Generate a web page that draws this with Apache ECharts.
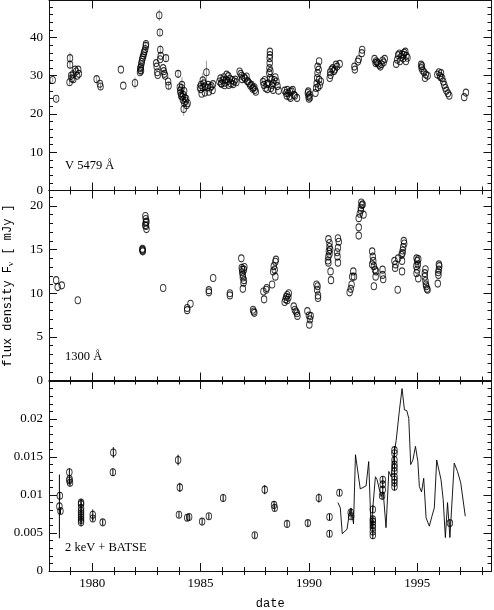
<!DOCTYPE html>
<html>
<head>
<meta charset="utf-8">
<script src="https://cdn.jsdelivr.net/npm/echarts@6/dist/echarts.min.js"></script>
<style>html,body{margin:0;padding:0;background:#fff}#c{width:494px;height:610px}</style>
</head>
<body>
<div id="c"></div>
<script>
// ---- data: [year, flux, error] ----
const opticalV = [
[1978.17,28.9,0.6],[1978.33,24.0,0.5],[1978.95,28.3,0.8],[1978.97,34.6,1.5],[1978.97,32.9,1.0],[1979.02,30.0,0.8],[1979.05,29.3,0],[1979.12,29.1,0],[1979.1,30.4,0],[1979.2,31.6,0],[1979.25,31.1,0],[1979.35,31.6,0],[1979.38,30.5,0],[1979.3,30.0,0],
[1980.2,29.1,0.8],[1980.35,27.9,0],[1980.38,27.2,0.8],[1981.32,31.6,0],[1981.43,27.4,0],[1981.97,28.1,1.5],
[1982.2,30.9,0],[1982.22,31.5,0],[1982.24,32.3,0],[1982.26,33.0,0],[1982.28,33.6,0],[1982.3,34.2,0],[1982.33,34.8,0],[1982.36,35.3,0],[1982.38,35.9,0],[1982.41,36.4,0],[1982.44,37.0,0],[1982.47,37.8,1.5],[1982.48,38.3,0],[1982.22,32.0,0],[1982.25,31.3,0],
[1982.95,33.3,0],[1982.97,32.4,0],[1983.0,30.9,0],[1983.02,30.2,0],[1983.09,45.8,1.5],[1983.12,41.3,1.0],[1983.14,36.8,1.2],[1983.16,35.2,0],[1983.13,34.3,0],[1983.27,32.0,0],[1983.3,31.2,0],[1983.33,30.5,0],[1983.36,30.0,0],[1983.4,34.6,1.0],[1983.5,28.5,0],[1983.52,27.4,1.0],[1983.96,30.5,1.0],
[1984.04,27.0,0],[1984.06,26.1,0],[1984.1,24.8,0],[1984.12,26.8,0],[1984.15,24.5,0],[1984.18,23.7,0],[1984.22,21.3,1.8],[1984.25,22.9,0],[1984.27,24.2,0],[1984.3,23.4,0],[1984.35,22.3,0],[1984.4,22.8,0],[1984.08,25.5,0],[1984.14,27.6,2.0],[1984.2,25.0,0],[1984.24,26.0,0],[1984.33,24.0,0],
[1984.97,27.0,0],[1985.0,26.5,0],[1985.02,27.6,0],[1985.05,25.3,0],[1985.1,26.9,0],[1985.15,28.0,0],[1985.2,27.2,0],[1985.27,30.9,3.0],[1985.3,26.9,0],[1985.35,27.6,0],[1985.38,25.8,0],[1985.45,26.9,0],[1985.5,27.3,0],[1985.55,26.2,0],[1985.57,27.8,0],[1985.1,28.8,2.0],[1985.2,25.6,0],
[1985.87,28.5,0],[1985.92,29.3,0],[1985.97,27.9,0],[1986.02,28.8,0],[1986.07,29.6,0],[1986.12,28.2,0],[1986.17,29.0,0],[1986.2,30.3,0],[1986.25,28.6,0],[1986.3,27.6,0],[1986.35,29.2,0],[1986.4,28.0,0],[1986.45,28.9,0],[1986.5,27.8,0],[1986.55,28.5,0],[1986.6,29.0,0],[1986.65,28.3,0],[1985.95,28.0,0],[1986.1,27.5,0],[1986.28,29.9,0],
[1986.8,31.1,0],[1986.85,30.5,0],[1986.9,30.0,0],[1986.92,29.1,0],[1987.0,29.6,0],[1987.05,29.3,0],[1987.12,29.8,0],[1987.15,28.6,0],[1987.19,28.5,0],[1987.25,28.0,0],[1987.3,27.4,0],[1987.35,27.6,0],[1987.4,26.6,0],[1987.42,26.9,0],[1987.5,26.3,0],[1987.55,25.8,0],[1987.48,27.0,0],
[1987.88,28.4,0],[1987.92,27.6,0],[1987.96,28.9,0],[1988.0,26.8,0],[1988.05,27.8,0],[1988.08,26.5,0],[1988.12,28.0,0],[1988.17,30.7,0],[1988.18,32.0,0],[1988.19,33.3,0],[1988.19,34.6,0],[1988.2,35.4,0],[1988.2,36.3,0],[1988.21,29.4,0],[1988.22,31.2,0],[1988.25,26.8,0],[1988.3,27.5,0],[1988.35,28.0,0],[1988.4,28.9,0],[1988.45,29.6,0],[1988.5,28.5,0],[1988.55,27.3,0],[1988.6,26.1,0],[1988.35,26.3,0],[1988.28,29.0,0],
[1988.88,26.1,0],[1988.95,25.5,0],[1989.0,26.3,0],[1989.05,25.4,0],[1989.1,24.6,0],[1989.15,24.2,0],[1989.2,25.9,0],[1989.25,26.3,0],[1989.3,25.0,0],[1989.35,24.8,0],[1989.45,24.2,0],[1988.98,24.8,0],[1989.12,25.8,0],
[1989.95,25.5,0],[1989.98,24.6,0],[1990.0,24.0,0],[1990.02,25.0,0],[1989.97,25.9,0],[1990.05,24.3,0],[1990.3,25.5,0],[1990.33,26.8,0],[1990.36,28.0,0],[1990.38,29.4,0],[1990.4,30.7,0],[1990.45,31.6,0],[1990.4,32.4,0],[1990.47,33.8,0],[1990.47,29.0,0],[1990.55,28.5,0],[1990.5,27.5,0],[1990.42,27.0,0],
[1990.96,29.4,0],[1990.98,30.9,0],[1991.05,31.6,0],[1991.1,32.0,0],[1991.2,31.6,0],[1991.25,32.9,0],[1991.3,32.4,0],[1991.42,33.1,0],[1991.0,30.2,0],[1991.15,31.2,0],
[1992.1,32.4,0],[1992.12,31.6,0],[1992.26,33.7,0],[1992.3,34.3,0],[1992.46,36.8,0],[1992.44,35.9,0],
[1993.03,34.4,0],[1993.1,33.8,0],[1993.15,33.5,0],[1993.2,33.2,0],[1993.25,32.8,0],[1993.3,32.4,0],[1993.35,33.0,0],[1993.4,34.0,0],[1993.5,34.4,0],[1993.45,33.5,0],[1993.08,33.3,0],
[1994.03,33.1,0],[1994.08,34.2,0],[1994.12,35.4,0],[1994.18,35.8,0],[1994.25,34.9,0],[1994.3,35.6,0],[1994.35,34.5,0],[1994.4,36.0,0],[1994.45,36.3,0],[1994.5,35.2,0],[1994.55,34.7,0],[1994.48,33.8,0],[1994.2,33.8,0],[1994.38,35.5,0],
[1995.18,32.9,0],[1995.2,32.0,0],[1995.25,31.4,0],[1995.32,30.9,0],[1995.4,30.3,0],[1995.48,30.0,0],[1995.36,29.4,0],[1995.22,32.5,0],
[1995.93,30.3,0],[1996.0,30.9,0],[1996.05,30.0,0],[1996.1,30.7,0],[1996.15,29.4,0],[1996.2,28.5,0],[1996.25,27.6,0],[1996.3,26.8,0],[1996.35,26.1,0],[1996.42,25.4,0],[1996.48,24.8,0],[1996.08,29.6,0],
[1997.17,24.4,0],[1997.25,25.6,0]
];
const uv1300 = [
[1978.33,11.5],[1978.4,10.7],[1978.59,10.9],[1979.33,9.2],
[1982.32,15.1],[1982.32,14.9],[1982.33,14.8],[1982.31,15.0],
[1982.45,18.85],[1982.47,18.5],[1982.47,18.1],[1982.48,17.7],[1982.5,17.35],[1982.44,17.8],[1982.5,18.2],
[1983.27,10.6],[1984.38,8.3],[1984.38,8.06],[1984.53,8.8],
[1985.38,10.35],[1985.38,10.1],[1985.58,11.75],[1986.35,10.0],[1986.35,9.75],
[1986.88,14.0],[1986.9,12.9],[1986.93,12.7],[1986.95,12.1],[1986.95,11.8],[1986.98,11.2],[1986.95,10.5],[1987.0,12.7],[1987.02,13.0],[1986.92,12.4],[1987.0,11.5],
[1987.42,8.1],[1987.48,7.75],[1987.45,7.9],
[1987.9,10.2],[1987.93,9.3],[1988.03,10.4],[1988.05,10.6],[1988.3,11.0],[1988.35,12.5],[1988.38,13.1],[1988.45,13.6],[1988.48,13.85],[1988.45,11.9],[1988.42,12.7],
[1988.88,9.0],[1988.95,9.6],[1989.0,9.8],[1989.05,9.5],[1989.07,10.0],[1988.92,9.3],[1989.0,9.2],
[1989.3,8.5],[1989.35,8.1],[1989.4,7.9],[1989.47,7.4],[1989.45,7.7],
[1989.93,7.95],[1990.0,7.45],[1990.02,6.4],[1990.08,7.4],[1990.05,7.0],
[1990.35,11.0],[1990.4,10.8],[1990.42,9.75],[1990.42,9.45],[1990.38,10.4],
[1990.9,16.2],[1990.95,15.75],[1990.95,15.3],[1990.92,14.8],[1990.9,14.2],[1990.88,13.75],[1990.9,13.5],[1991.0,12.5],[1991.02,11.5],[1990.95,14.5],[1990.98,15.0],
[1991.34,16.3],[1991.38,15.9],[1991.34,15.2],[1991.3,14.7],[1991.34,13.5],[1991.32,14.2],
[1991.88,10.1],[1991.93,10.5],[1991.97,11.0],[1992.0,11.9],[1992.05,12.5],[1992.08,11.9],
[1992.3,16.6],[1992.3,17.55],[1992.3,18.6],[1992.35,19.1],[1992.4,19.5],[1992.45,20.1],[1992.42,20.4],[1992.48,20.2],[1992.52,19.0],[1992.4,19.8],
[1992.92,14.8],[1992.95,14.2],[1992.97,13.7],[1993.0,13.1],[1993.05,12.7],[1993.08,11.9],[1993.0,10.8],[1992.92,13.3],[1993.1,12.5],
[1993.4,12.7],[1993.4,12.1],[1993.43,11.6],
[1993.95,13.7],[1993.98,12.9],[1994.0,13.3],[1994.1,10.4],[1994.12,14.0],[1994.28,14.4],[1994.3,13.7],[1994.3,12.5],[1994.33,14.9],[1994.35,15.3],[1994.4,15.7],[1994.38,16.0],[1994.32,14.6],
[1994.97,14.0],[1995.0,13.7],[1995.03,13.3],[1995.05,13.9],[1994.96,13.1],[1994.97,12.3],[1995.0,12.7],[1995.05,11.7],
[1995.38,12.75],[1995.35,12.3],[1995.35,11.9],[1995.38,11.4],[1995.4,11.0],[1995.45,10.5],[1995.48,10.4],[1995.42,10.8],
[1995.95,11.1],[1995.98,12.1],[1996.0,12.7],[1996.02,13.1],[1996.0,13.3],[1995.97,12.4]
];
const xray2keV = [
[1978.48,0.0085,0.0042],[1978.5,0.0099,0.0005],[1978.53,0.0079,0.0004],
[1978.94,0.0130,0.0005],[1978.94,0.0119,0.0005],[1978.97,0.0116,0.0004],[1978.95,0.0121,0.0004],
[1979.48,0.0090,0.0005],[1979.48,0.0088,0.0005],[1979.48,0.0083,0.0005],[1979.48,0.0079,0.0005],[1979.48,0.0076,0.0005],[1979.48,0.0073,0.0005],[1979.48,0.0070,0.0005],[1979.48,0.0067,0.0005],[1979.48,0.0064,0.0005],
[1980.02,0.0074,0.0007],[1980.02,0.0069,0.0004],[1980.48,0.0064,0.0004],
[1980.97,0.0156,0.0007],[1980.95,0.0130,0.0005],
[1983.96,0.0146,0.0007],[1984.04,0.0110,0.0006],[1984.0,0.0074,0.0004],[1984.38,0.0070,0.0004],[1984.47,0.0071,0.0004],
[1985.07,0.0065,0.0004],[1985.38,0.0072,0.0004],[1986.04,0.0096,0.0005],
[1987.5,0.0047,0.0004],[1987.96,0.0107,0.0006],[1988.39,0.0087,0.0005],[1988.42,0.0083,0.0004],[1988.99,0.0062,0.0004],[1989.95,0.0063,0.0004],
[1990.46,0.0096,0.0006],[1990.95,0.0071,0.0004],[1990.95,0.0049,0.0004],[1991.41,0.0103,0.0004],[1991.95,0.0072,0.0004],[1991.93,0.0077,0.0004],
[1992.95,0.0081,0.0005],[1992.95,0.0068,0.0005],[1992.95,0.0065,0.0005],[1992.95,0.0061,0.0005],[1992.95,0.0057,0.0005],[1992.95,0.0052,0.0005],[1992.95,0.0047,0.0005],
[1993.41,0.0120,0.0005],[1993.41,0.0114,0.0005],[1993.41,0.0107,0.0005],[1993.38,0.0099,0.0005],
[1993.95,0.0159,0.0005],[1993.95,0.0155,0.0005],[1993.95,0.0146,0.0005],[1993.95,0.0140,0.0005],[1993.95,0.0136,0.0005],[1993.95,0.0131,0.0005],[1993.95,0.0124,0.0005],[1993.95,0.0120,0.0005],[1993.95,0.0116,0.0005],[1993.95,0.0111,0.0005],
[1996.51,0.0063,0.0004]
];
const batseYears = [1991.34,1991.45,1991.54,1991.76,1991.88,1991.95,1992.06,1992.15,1992.37,1992.64,1992.76,1992.87,1993.07,1993.15,1993.33,1993.43,1993.56,1993.69,1993.8,1993.9,1994.03,1994.18,1994.3,1994.41,1994.52,1994.61,1994.7,1994.8,1994.92,1995.03,1995.1,1995.2,1995.3,1995.41,1995.56,1995.68,1995.79,1995.9,1996.1,1996.2,1996.3,1996.4,1996.51,1996.71,1996.86,1997.01,1997.22];
const batseFlux = [0.0090,0.0083,0.0049,0.0055,0.0079,0.0083,0.0062,0.0153,0.0108,0.0112,0.0144,0.0055,0.0124,0.0120,0.0098,0.0104,0.0057,0.0131,0.0124,0.0148,0.0172,0.0212,0.0240,0.0212,0.0211,0.0201,0.0140,0.0146,0.0164,0.0144,0.0111,0.0104,0.0122,0.0070,0.0059,0.0072,0.0083,0.0146,0.0120,0.0094,0.0044,0.0090,0.0044,0.0142,0.0131,0.0116,0.0072];
const yearLabels = [1980,1985,1990,1995];
const minorYears = [1979,1981,1982,1983,1984,1986,1987,1988,1989,1991,1992,1993,1994,1996,1997,1998];
const panelLabels = ['V 5479 Å','1300 Å','2 keV + BATSE'];
const yMajor = [[0,10,20,30,40],[0,5,10,15,20],[0,0.005,0.01,0.015,0.02]];
const yMinor = [
  [2,4,6,8,12,14,16,18,22,24,26,28,32,34,36,38,42,44,46,48],
  [1,2,3,4,6,7,8,9,11,12,13,14,16,17,18,19,21],
  [0.001,0.002,0.003,0.004,0.006,0.007,0.008,0.009,0.011,0.012,0.013,0.014,0.016,0.017,0.018,0.019,0.021,0.022,0.023,0.024]
];
const yMax = [49.67,21.77,0.025];

// ---- layout ----
const gridTops = [0.5,190.5,381];
const gridH = 190;
const LINE = '#111';
const FONT = 'Liberation Serif';

const grids = gridTops.map(t => ({left:49, right:2.5, top:t, height:gridH, containLabel:false, outerBoundsMode:'none'}));
const xAxes = [], yAxes = [];
for (let i=0;i<3;i++){
  const last = i===2;
  ['bottom','top'].forEach(pos => {
    xAxes.push({gridIndex:i,type:'value',position:pos,min:1978,max:1998.43,
      axisLine:{show:true,onZero:false,lineStyle:{color:LINE,width:1}},
      axisTick:{show:true,inside:true,length:8,customValues:yearLabels,lineStyle:{color:LINE}},
      axisLabel:{show:last&&pos==='bottom',customValues:yearLabels,formatter:v=>String(v),fontFamily:FONT,fontSize:13,color:'#000',margin:6},
      splitLine:{show:false},
      name:(last&&pos==='bottom')?'date':'',nameLocation:'middle',nameGap:27,
      nameTextStyle:{fontFamily:'Liberation Mono',fontSize:12,color:'#000'}});
    xAxes.push({gridIndex:i,type:'value',position:pos,min:1978,max:1998.43,
      axisLine:{show:false},
      axisTick:{show:true,inside:true,length:4,customValues:minorYears,lineStyle:{color:LINE}},
      axisLabel:{show:false},splitLine:{show:false}});
  });
  ['left','right'].forEach(pos => {
    yAxes.push({gridIndex:i,type:'value',position:pos,min:0,max:yMax[i],
      axisLine:{show:true,onZero:false,lineStyle:{color:LINE,width:1}},
      axisTick:{show:true,inside:true,length:8,customValues:yMajor[i],lineStyle:{color:LINE}},
      axisLabel:{show:pos==='left',customValues:yMajor[i],formatter:v=>String(v),fontFamily:FONT,fontSize:13,color:'#000',margin:6},
      splitLine:{show:false},
      name:(i===1&&pos==='left')?'flux density F{sub|ν} [ mJy ]':'',
      nameLocation:'middle',nameRotate:90,nameGap:35,
      nameTextStyle:{fontFamily:'Liberation Mono',fontSize:12,color:'#000',
        rich:{sub:{fontFamily:'Liberation Serif',fontSize:9,color:'#000',padding:[0,0,-5,0]}}}});
    yAxes.push({gridIndex:i,type:'value',position:pos,min:0,max:yMax[i],
      axisLine:{show:false},
      axisTick:{show:true,inside:true,length:4,customValues:yMinor[i],lineStyle:{color:LINE}},
      axisLabel:{show:false},splitLine:{show:false}});
  });
}

const marker = {symbol:'circle',symbolSize:[5.5,7],itemStyle:{color:'rgba(0,0,0,0)',borderColor:'#000',borderWidth:1}};
function errBars(i, data, color){
  return {type:'custom',xAxisIndex:i*4,yAxisIndex:i*4,silent:true,z:1,
    data:data.filter(p=>p[2]>0).map(p=>[p[0],p[1],p[2]]),
    encode:{x:0,y:1},
    renderItem:(params,api)=>{
      const x=api.value(0),y=api.value(1),e=api.value(2);
      const a=api.coord([x,y-e]), b=api.coord([x,y+e]);
      return {type:'line',shape:{x1:a[0],y1:a[1],x2:b[0],y2:b[1]},style:{stroke:color,lineWidth:1}};
    }};
}
function scatter(i,data){
  return Object.assign({type:'scatter',xAxisIndex:i*4,yAxisIndex:i*4,z:3,silent:true,
    data:data.map(p=>[p[0],p[1]])},marker);
}

const series = [
  errBars(0,opticalV,'#9a9a9a'), scatter(0,opticalV),
  scatter(1,uv1300),
  errBars(2,xray2keV,'#000'), scatter(2,xray2keV),
  {type:'line',xAxisIndex:8,yAxisIndex:8,showSymbol:false,silent:true,z:2,
   data:batseYears.map((y,k)=>[y,batseFlux[k]]),lineStyle:{color:'#000',width:0.9}}
];

const labelY = [166,357.5,548];
const graphic = panelLabels.map((t,i)=>({type:'text',left:65,top:labelY[i]-7,
  style:{text:t,fontFamily:FONT,fontSize:12.5,fill:'#000'}}));

const chart = echarts.init(document.getElementById('c'),null,{renderer:'canvas'});
chart.setOption({animation:false,grid:grids,xAxis:xAxes,yAxis:yAxes,series,graphic});
</script>
</body>
</html>
